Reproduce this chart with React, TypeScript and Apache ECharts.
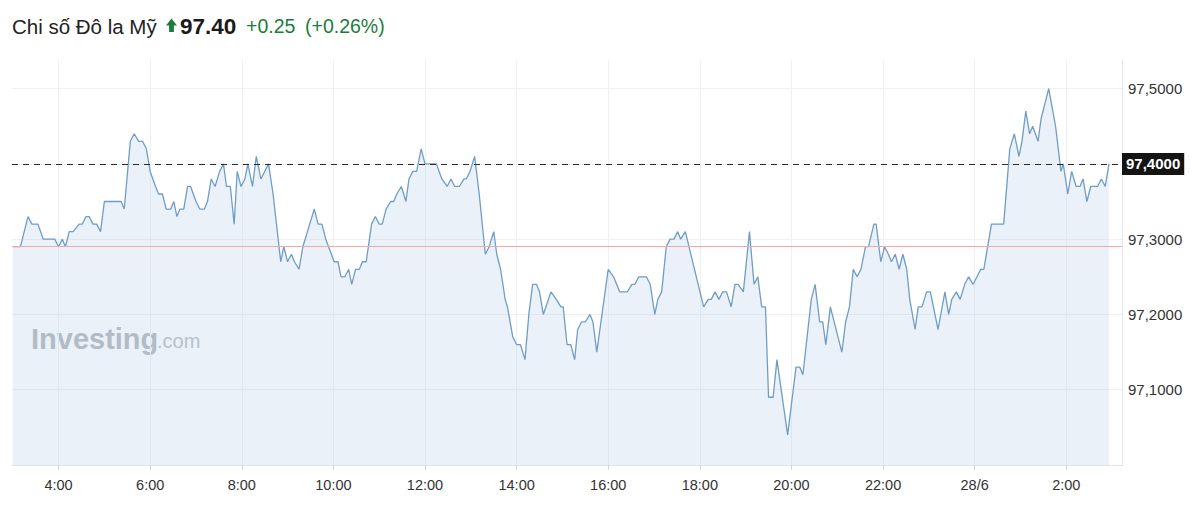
import React, { useEffect, useRef } from "react";
import * as echarts from "echarts";

// ---- Data ----
const TITLE_NAME = "Chi số Đô la Mỹ";
const LAST_PRICE = "97.40";
const CHANGE_ABS = "+0.25";
const CHANGE_PCT = "(+0.26%)";

const CURRENT_LEVEL = 97.4; // dashed line + black label
const PREV_CLOSE = 97.29; // thin red line

// 27/6, Asian session
const day27Early: [string, number][] = [
  ["03:00", 97.29], ["03:10", 97.29], ["03:20", 97.33], ["03:25", 97.32], ["03:33", 97.32], ["03:40", 97.3],
  ["03:55", 97.3], ["04:00", 97.29], ["04:05", 97.3], ["04:09", 97.29], ["04:14", 97.31], ["04:19", 97.31],
  ["04:27", 97.32], ["04:31", 97.32], ["04:36", 97.33], ["04:40", 97.33], ["04:45", 97.32], ["04:50", 97.32],
  ["04:55", 97.31], ["05:00", 97.35], ["05:22", 97.35], ["05:26", 97.34], ["05:34", 97.43], ["05:39", 97.44],
  ["05:45", 97.43], ["05:50", 97.43], ["05:55", 97.42], ["06:00", 97.39], ["06:07", 97.37], ["06:11", 97.36],
  ["06:16", 97.36], ["06:21", 97.34], ["06:27", 97.34], ["06:31", 97.35], ["06:35", 97.33], ["06:39", 97.34],
  ["06:44", 97.34], ["06:49", 97.37], ["06:53", 97.37], ["07:00", 97.35], ["07:05", 97.34], ["07:11", 97.34],
  ["07:15", 97.35], ["07:20", 97.38], ["07:25", 97.37], ["07:31", 97.39], ["07:36", 97.4], ["07:40", 97.37],
  ["07:45", 97.37], ["07:50", 97.32], ["07:54", 97.39], ["07:59", 97.37], ["08:04", 97.38], ["08:08", 97.4],
  ["08:14", 97.37], ["08:19", 97.41], ["08:25", 97.38], ["08:35", 97.4], ["08:41", 97.36], ["08:51", 97.27],
  ["08:55", 97.29],
];

// 27/6, European session
const day27Mid: [string, number][] = [
  ["09:00", 97.27], ["09:05", 97.28], ["09:09", 97.27], ["09:15", 97.26], ["09:20", 97.29], ["09:26", 97.31],
  ["09:35", 97.34], ["09:40", 97.32], ["09:45", 97.32], ["09:50", 97.3], ["10:01", 97.27], ["10:06", 97.27],
  ["10:10", 97.25], ["10:15", 97.25], ["10:20", 97.26], ["10:24", 97.24], ["10:29", 97.26], ["10:34", 97.26],
  ["10:38", 97.27], ["10:43", 97.27], ["10:50", 97.32], ["10:55", 97.33], ["11:00", 97.32], ["11:04", 97.32],
  ["11:09", 97.34], ["11:15", 97.35], ["11:19", 97.35], ["11:23", 97.36], ["11:29", 97.37], ["11:35", 97.35],
  ["11:39", 97.38], ["11:44", 97.39], ["11:49", 97.39], ["11:55", 97.42], ["12:00", 97.4], ["12:15", 97.4],
  ["12:22", 97.38], ["12:29", 97.37], ["12:34", 97.38], ["12:39", 97.37], ["12:45", 97.37], ["12:51", 97.38],
  ["12:54", 97.38], ["12:59", 97.39], ["13:05", 97.41], ["13:11", 97.36], ["13:19", 97.28], ["13:24", 97.29],
  ["13:30", 97.31], ["13:34", 97.28], ["13:39", 97.26], ["13:45", 97.22], ["13:48", 97.21], ["13:55", 97.17],
  ["14:00", 97.16], ["14:05", 97.16], ["14:11", 97.14], ["14:16", 97.2], ["14:21", 97.24], ["14:26", 97.24],
  ["14:30", 97.23], ["14:35", 97.2], ["14:45", 97.23], ["14:52", 97.22], ["14:58", 97.21],
];

// 27/6, US session
const day27Late: [string, number][] = [
  ["15:01", 97.21], ["15:06", 97.16], ["15:11", 97.16], ["15:16", 97.14], ["15:20", 97.18], ["15:25", 97.19],
  ["15:30", 97.19], ["15:36", 97.2], ["15:40", 97.19], ["15:45", 97.15], ["16:00", 97.26], ["16:07", 97.25],
  ["16:15", 97.23], ["16:25", 97.23], ["16:31", 97.24], ["16:35", 97.24], ["16:40", 97.25], ["16:50", 97.25],
  ["16:55", 97.24], ["17:01", 97.2], ["17:05", 97.22], ["17:10", 97.23], ["17:16", 97.29], ["17:21", 97.3],
  ["17:26", 97.3], ["17:31", 97.31], ["17:35", 97.3], ["17:41", 97.31], ["18:05", 97.21], ["18:11", 97.22],
  ["18:15", 97.22], ["18:20", 97.23], ["18:25", 97.22], ["18:30", 97.23], ["18:35", 97.23], ["18:41", 97.21],
  ["18:46", 97.24], ["18:50", 97.24], ["18:57", 97.23], ["19:05", 97.31], ["19:11", 97.24], ["19:16", 97.25],
  ["19:21", 97.21], ["19:26", 97.21], ["19:30", 97.09], ["19:36", 97.09], ["19:41", 97.14], ["19:55", 97.04],
  ["20:06", 97.13], ["20:11", 97.13], ["20:15", 97.12], ["20:26", 97.22], ["20:31", 97.24], ["20:37", 97.19],
  ["20:41", 97.19], ["20:45", 97.16], ["20:51", 97.21], ["21:06", 97.15], ["21:11", 97.19], ["21:16", 97.21],
  ["21:21", 97.26], ["21:26", 97.25], ["21:31", 97.26], ["21:37", 97.29], ["21:41", 97.29], ["21:48", 97.32],
  ["21:51", 97.32], ["21:57", 97.27], ["22:02", 97.29], ["22:07", 97.28], ["22:11", 97.27], ["22:16", 97.28],
  ["22:21", 97.26], ["22:26", 97.28], ["22:31", 97.26], ["22:35", 97.22], ["22:42", 97.18], ["22:46", 97.21],
  ["22:51", 97.21], ["22:57", 97.23], ["23:02", 97.23], ["23:06", 97.21], ["23:12", 97.18], ["23:21", 97.23],
  ["23:26", 97.2], ["23:30", 97.22], ["23:36", 97.23], ["23:41", 97.22], ["23:47", 97.24], ["23:52", 97.25],
  ["23:58", 97.24],
];

// 28/6
const day28: [string, number][] = [
  ["00:03", 97.25], ["00:08", 97.26], ["00:12", 97.26], ["00:17", 97.29], ["00:22", 97.32], ["00:38", 97.32],
  ["00:46", 97.42], ["00:52", 97.44], ["00:58", 97.41], ["01:02", 97.43], ["01:07", 97.47], ["01:12", 97.44],
  ["01:16", 97.45], ["01:23", 97.43], ["01:27", 97.46], ["01:37", 97.5], ["01:46", 97.45], ["01:53", 97.39],
  ["01:56", 97.4], ["02:02", 97.36], ["02:07", 97.39], ["02:13", 97.37], ["02:18", 97.37], ["02:22", 97.38],
  ["02:27", 97.35], ["02:32", 97.37], ["02:41", 97.37], ["02:46", 97.38], ["02:51", 97.37], ["02:56", 97.4],
];

// Axis ticks (minutes from 27/6 00:00)
const xTickValues = [240, 360, 480, 600, 720, 840, 960, 1080, 1200, 1320, 1440, 1560];
const yTickValues = [97.1, 97.2, 97.3, 97.4, 97.5];
const yLabelValues = [97.1, 97.2, 97.3, 97.5];
const X_MIN = 179;
const X_MAX = 1633;
const Y_MIN = 97.0;
const Y_MAX = 97.538;

const FONT = "'Liberation Sans', Arial, sans-serif";
const GREEN = "#1a7d3a";

function toMinutes(hhmm: string, dayOffset: number): number {
  const [h, m] = hhmm.split(":").map(Number);
  return dayOffset * 1440 + h * 60 + m;
}

function buildSeries(): [number, number][] {
  const out: [number, number][] = [];
  [...day27Early, ...day27Mid, ...day27Late].forEach(([t, v]) => out.push([toMinutes(t, 0), v]));
  day28.forEach(([t, v]) => out.push([toMinutes(t, 1), v]));
  return out;
}

function xLabel(v: number): string {
  if (v === 1440) return "28/6";
  return `${Math.floor(v / 60) % 24}:00`;
}

export default function App() {
  const ref = useRef<HTMLDivElement>(null);

  useEffect(() => {
    document.body.style.margin = "0";
    if (!ref.current) return;
    const chart = echarts.init(ref.current, undefined, { renderer: "svg" });

    const option: any = {
      animation: false,
      backgroundColor: "#ffffff",
      grid: { left: 12, right: 78, top: 60, bottom: 51, outerBoundsMode: "none" },
      graphic: [
        {
          type: "text",
          x: 12,
          y: 26,
          style: { text: TITLE_NAME, fontSize: 20.5, fontFamily: FONT, fill: "#222222", verticalAlign: "middle" },
        },
        {
          type: "polygon",
          shape: {
            points: [
              [171.5, 18.5], [177, 25.5], [173.9, 25.5], [173.9, 32], [169.1, 32], [169.1, 25.5], [166, 25.5],
            ],
          },
          style: { fill: GREEN },
        },
        {
          type: "text",
          x: 180,
          y: 26,
          style: {
            text: LAST_PRICE, fontSize: 22.5, fontWeight: "bold", fontFamily: FONT, fill: "#1a1a1a",
            verticalAlign: "middle",
          },
        },
        {
          type: "text",
          x: 246,
          y: 26,
          style: { text: CHANGE_ABS, fontSize: 19.5, fontFamily: FONT, fill: GREEN, verticalAlign: "middle" },
        },
        {
          type: "text",
          x: 305,
          y: 26,
          style: { text: CHANGE_PCT, fontSize: 19.5, fontFamily: FONT, fill: GREEN, verticalAlign: "middle" },
        },
        {
          type: "text",
          x: 31,
          y: 339,
          style: {
            text: "Investing", fontSize: 29, fontWeight: "bold", fontFamily: FONT, fill: "#afb3b9",
            verticalAlign: "middle",
          },
        },
        {
          type: "text",
          x: 157,
          y: 341,
          style: { text: ".com", fontSize: 20, fontFamily: FONT, fill: "#b5b9be", verticalAlign: "middle" },
        },
      ],
      xAxis: {
        type: "value",
        min: X_MIN,
        max: X_MAX,
        axisLine: { show: true, lineStyle: { color: "#e1e4e9", width: 1 } },
        axisTick: { show: true, customValues: xTickValues, length: 5, lineStyle: { color: "#d4d7dc" } },
        axisLabel: {
          customValues: xTickValues,
          formatter: xLabel,
          color: "#333333",
          fontSize: 14.5,
          fontFamily: FONT,
          margin: 12,
        },
        splitLine: { show: true, lineStyle: { color: "#eef0f4", width: 1 } },
      },
      yAxis: {
        type: "value",
        position: "right",
        min: Y_MIN,
        max: Y_MAX,
        axisLine: { show: true, lineStyle: { color: "#e1e4e9", width: 1 } },
        axisTick: { show: false, customValues: yTickValues },
        axisLabel: {
          customValues: yLabelValues,
          formatter: (v: number) => v.toFixed(4).replace(".", ","),
          color: "#333333",
          fontSize: 15,
          fontFamily: FONT,
          margin: 6,
        },
        splitLine: { show: true, lineStyle: { color: "#eef0f4", width: 1 } },
      },
      series: [
        {
          type: "line",
          data: buildSeries(),
          showSymbol: false,
          symbol: "none",
          lineStyle: { color: "#6f9dc6", width: 1.3 },
          areaStyle: { color: "rgba(186, 209, 232, 0.44)", origin: "start" },
          markLine: {
            silent: true,
            symbol: ["none", "none"],
            data: [
              {
                yAxis: PREV_CLOSE,
                lineStyle: { color: "#f3a9a9", type: "solid", width: 1 },
                label: { show: false },
              },
              {
                yAxis: CURRENT_LEVEL,
                lineStyle: { color: "#2a2a2a", type: [6, 5], width: 1.2 },
                label: {
                  show: true,
                  position: "end",
                  distance: 0,
                  formatter: () => CURRENT_LEVEL.toFixed(4).replace(".", ","),
                  backgroundColor: "#141414",
                  color: "#ffffff",
                  fontWeight: "bold",
                  fontSize: 15,
                  fontFamily: FONT,
                  padding: [4, 4, 3, 4],
                },
              },
            ],
          },
        },
      ],
    };

    chart.setOption(option);
    return () => chart.dispose();
  }, []);

  return <div ref={ref} style={{ width: 1200, height: 516 }} />;
}
